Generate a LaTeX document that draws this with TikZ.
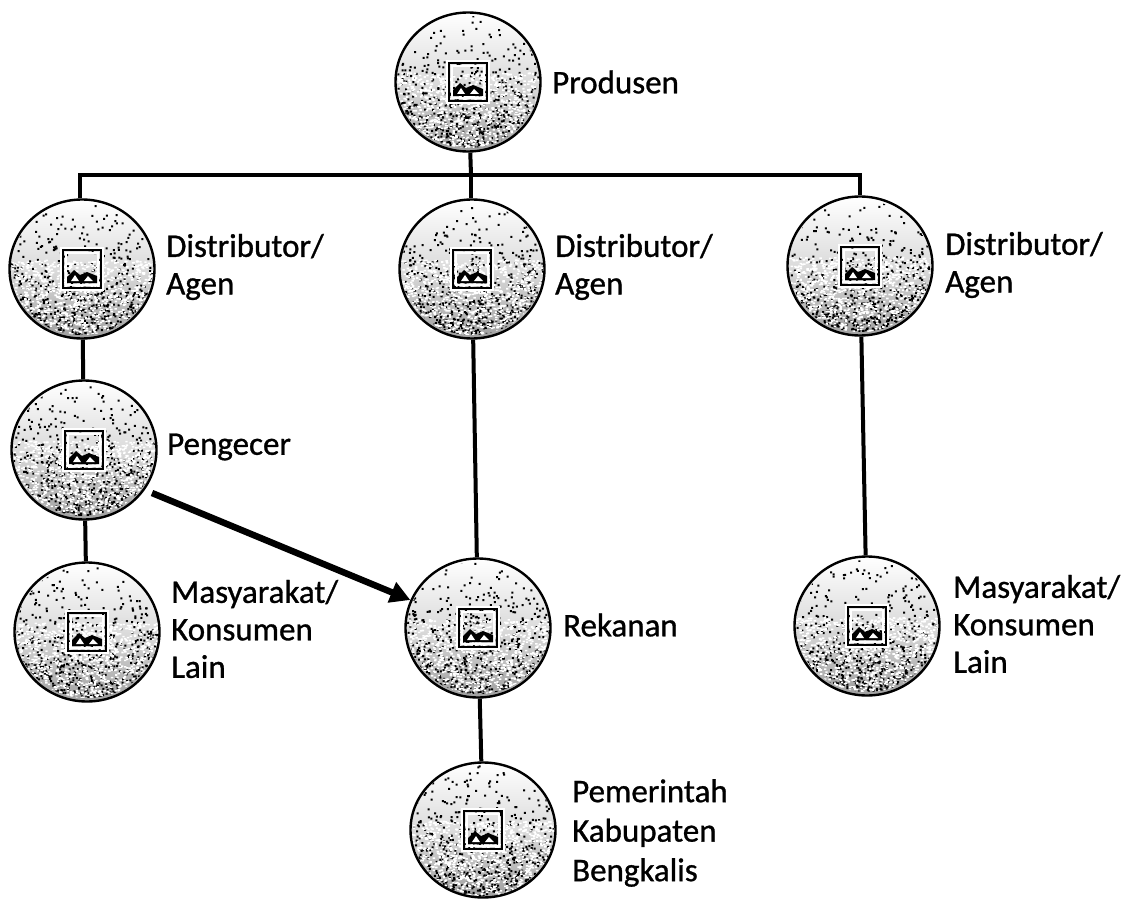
\documentclass[tikz,border=0pt]{standalone}
\usepackage{fontspec}
\newfontfamily\lblfont{Carlito}[FakeBold=0.9]
\usetikzlibrary{arrows.meta,calc,shapes.geometric}
\tikzset{
  orb/.style={ellipse,draw=black,line width=2.4pt,minimum width=145pt,minimum height=#1,inner sep=0pt,top color=white,bottom color=gray!75,middle color=gray!28},
  orb/.default=139pt,
  lbl/.style={align=left,anchor=west,font=\fontsize{33}{37.5}\selectfont\lblfont,inner sep=0pt,text=black},
  link/.style={line width=4pt,draw=black},
  bigarrow/.style={line width=6.5pt,draw=black,-{Triangle[length=20pt,width=21pt]}}
}
\newdimen\cxx \newdimen\cyy
\makeatletter
\newcommand{\stipple}[1]{%
  \begin{scope}
    \clip (#1) ellipse [x radius=71,y radius=66];
    \pgfpointanchor{#1}{center}\global\cxx=\pgf@x \global\cyy=\pgf@y
    \pgfsetfillcolor{black}
    \foreach \j in {1,...,22}{%
      \foreach \i in {1,...,100}{%
        \pgfmathsetmacro{\dx}{rand*71}%
        \pgfmathsetmacro{\dy}{rand*68}%
        \pgfmathsetmacro{\pr}{(\dy+68)/136}%
        \pgfmathsetmacro{\kp}{rnd<\pr*\pr*0.85+0.06 ? 1 : 0}%
        \ifdim\kp pt>0.5pt
          \pgfpathrectangle{\pgfpoint{\cxx+\dx pt}{\cyy-\dy pt}}{\pgfqpoint{2pt}{2pt}}%
        \fi
      }%
      \pgfusepath{fill}%
    }%
    \pgfsetfillcolor{white}
    \foreach \j in {1,...,10}{%
      \foreach \i in {1,...,100}{%
        \pgfmathsetmacro{\dx}{rand*71}%
        \pgfmathsetmacro{\dy}{rand*38+30}%
        \pgfpathrectangle{\pgfpoint{\cxx+\dx pt}{\cyy-\dy pt}}{\pgfqpoint{2.4pt}{1.6pt}}%
      }%
      \pgfusepath{fill}%
    }%
  \end{scope}
  \draw[white,line width=2.4pt] ($(#1)+(-16,-16)$) rectangle ($(#1)+(16,16)$);
  \draw[black,line width=2pt] ($(#1)+(-19,-19)$) rectangle ($(#1)+(19,19)$);
  \draw[white,line width=1.8pt] ($(#1)+(-21,-21)$) rectangle ($(#1)+(21,21)$);
  \fill[black] ($(#1)+(-15,14)$) -- ($(#1)+(-15,8)$) -- ($(#1)+(-8,1)$) -- ($(#1)+(-2,6)$) -- ($(#1)+(5,3)$) -- ($(#1)+(15,7)$) -- ($(#1)+(15,14)$) -- cycle;
  \fill[white] ($(#1)+(-11,12)$) -- ($(#1)+(-7,6)$) -- ($(#1)+(-3,12)$) -- cycle;
  \fill[white] ($(#1)+(2,12)$) -- ($(#1)+(6,7)$) -- ($(#1)+(11,12)$) -- cycle;
}
\makeatother
\begin{document}
\begin{tikzpicture}[x=1pt,y=-1pt]
\pgfmathsetseed{4242}
\useasboundingbox (0,0) rectangle (1128,899);
\fill[white] (0,0) rectangle (1128,899);
% nodes
\node[orb] (prod) at (468,82) {};
\node[orb] (d1) at (82,269) {};
\node[orb] (d2) at (472,269) {};
\node[orb] (d3) at (860,266) {};
\node[orb] (p) at (84,450) {};
\node[orb] (m1) at (87,632) {};
\node[orb] (r) at (478,628) {};
\node[orb] (m3) at (867,626) {};
\node[orb=135pt] (g) at (483,830) {};
% junctions
\coordinate (jc) at (471,175);
\coordinate (jl) at (80,175);
\coordinate (jr) at (860,175);
\coordinate (as) at (152,493);
% connectors
\draw[link] (prod) -- (jc);
\draw[link,line join=miter] (d1.north -| jl) -- (jl) -- (jr) -- (d3.north);
\draw[link] (jc) -- (d2.north -| jc);
\draw[link] (d1) -- (p);
\draw[link] (p) -- (m1);
\draw[link] (d2) -- (r);
\draw[link] (d3) -- (m3);
\draw[link] (r) -- (g);
\draw[bigarrow] (as) -- (r);
% labels
\node[lbl] (t1) at (552,82) {Produsen};
\node[lbl] (t2) at (166,267) {Distributor/\\Agen};
\node[lbl] (t3) at (555,267) {Distributor/\\Agen};
\node[lbl] (t4) at (945,265) {Distributor/\\Agen};
\node[lbl] (t5) at (167,447) {Pengecer};
\node[lbl] (t6) at (171,629) {Masyarakat/\\Konsumen\\Lain};
\node[lbl] (t7) at (563,625) {Rekanan};
\node[lbl] (t8) at (953,624) {Masyarakat/\\Konsumen\\Lain};
\node[lbl] (t9) at (572,833) {Pemerintah\\[2pt]Kabupaten\\[2pt]Bengkalis};
% stipple
\foreach \n in {prod,d1,d2,d3,p,m1,r,m3,g}{\stipple{\n}}
\end{tikzpicture}
\end{document}
